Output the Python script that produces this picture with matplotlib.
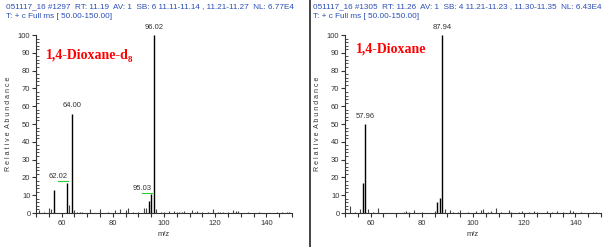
import numpy as np
import matplotlib.pyplot as plt
from matplotlib.ticker import MultipleLocator

plt.rcParams['font.family'] = ['Liberation Sans', 'DejaVu Sans']

# 1,4-dioxane-d8 spectrum
d8_mz = [51, 53, 55, 56, 57, 62.02, 63, 64.00, 65, 66, 67, 68, 71, 75, 78, 81, 83, 85, 86,
         88, 90, 92, 93, 94, 95.03, 96.02, 97, 99, 100, 102, 104, 105, 106, 107, 108, 111,
         112, 113, 115, 117, 119, 121, 122, 123, 125, 127, 128, 129, 133, 137, 144, 146,
         148, 149]
d8_int = [1.5, 0.5, 3, 2, 12.7, 17, 4.5, 55.8, 1.5, 0.5, 0.5, 0.5, 2, 2, 0.5, 1.5, 2.5, 1.5, 3,
          0.5, 0.5, 3, 3, 6.6, 10.5, 100, 2, 0.5, 0.5, 1, 1, 0.5, 0.5, 0.3, 1, 1.5,
          0.5, 1, 0.5, 0.5, 2, 0.5, 0.5, 0.5, 0.5, 1.5, 1, 1, 0.5, 0.5, 0.5, 0.5,
          0.5, 0.5]
d8_labels = ['62.02', '64.00', '95.03', '96.02']

# 1,4-dioxane spectrum
h_mz = [50, 52, 54, 56, 57, 57.96, 59, 61, 63, 73, 74, 75, 77, 80, 85, 86, 87, 87.94, 89,
        91, 92, 94, 95, 98, 101, 103, 104, 106, 107, 109, 111, 114, 115, 118, 119, 122,
        124, 125, 129, 131, 133, 135, 138, 139, 142, 147, 148]
h_int = [1, 3.8, 0.5, 2, 17, 50, 2.5, 0.5, 3, 0.5, 1, 0.5, 1.5, 0.5, 1, 6, 8.5, 100, 2,
         1.5, 0.5, 0.5, 1.5, 0.5, 1, 1.5, 2, 0.5, 1, 3, 0.5, 1.5, 0.5, 0.5, 1, 0.5,
         1, 0.5, 1, 0.5, 1, 0.5, 1.5, 1, 0.5, 0.5, 0.5]
h_labels = ['57.96', '87.94']

headers = [
    ['051117_16 #1297  RT: 11.19  AV: 1  SB: 6 11.11-11.14 , 11.21-11.27  NL: 6.77E4',
     'T: + c Full ms [ 50.00-150.00]'],
    ['051117_16 #1305  RT: 11.26  AV: 1  SB: 4 11.21-11.23 , 11.30-11.35  NL: 6.43E4',
     'T: + c Full ms [ 50.00-150.00]'],
]
titles = [('1,4-Dioxane-d', '8'), ('1,4-Dioxane', '')]

W, H = 613, 247
fig = plt.figure(figsize=(W / 100, H / 100), dpi=100)
blue = '#2b4fb5'
grey = '#333333'

def px(x, y):
    return x / W, 1 - y / H

panels = [
    dict(x0=36, hx=6, mz=d8_mz, it=d8_int, lab=d8_labels, title=titles[0], tpos=(46, 55)),
    dict(x0=345, hx=313, mz=h_mz, it=h_int, lab=h_labels, title=titles[1], tpos=(356, 49)),
]

for i, p in enumerate(panels):
    ax = fig.add_axes([p['x0'] / W, 1 - 213 / H, 256 / W, 178 / H])
    mz = np.array(p['mz'])
    it = np.array(p['it'])
    big = it > 5
    ax.vlines(mz[~big], 0, it[~big], color='#444444', lw=0.8)
    ax.vlines(mz[big], 0, it[big], color='black', lw=1.0)
    ax.set_xlim(50, 150)
    ax.set_ylim(0, 100)
    for s in ['top', 'right']:
        ax.spines[s].set_visible(False)
    for s in ['left', 'bottom']:
        ax.spines[s].set_color(grey)
        ax.spines[s].set_linewidth(0.8)
    ax.xaxis.set_major_locator(MultipleLocator(20))
    ax.xaxis.set_minor_locator(MultipleLocator(5))
    ax.yaxis.set_major_locator(MultipleLocator(10))
    ax.yaxis.set_minor_locator(MultipleLocator(2))
    ax.tick_params(axis='x', which='both', length=3, width=0.8, color=grey,
                   labelsize=5.5, pad=2, labelcolor=grey)
    ax.tick_params(axis='y', which='major', length=3, width=0.8, color=grey,
                   labelsize=5.5, pad=1, labelcolor=grey)
    ax.tick_params(axis='y', which='minor', direction='in', length=2.5, width=0.6, color=grey)
    ax.xaxis.set_major_formatter(lambda v, pos: '' if v in (50, 150) else f'{v:.0f}')
    ax.set_xlabel('m/z', fontsize=5.5, color=grey, labelpad=3)
    ax.set_ylabel('R e l a t i v e  A b u n d a n c e', fontsize=5.0, color=grey, labelpad=4)
    ax.patch.set_alpha(0)

    for lab in p['lab']:
        v = float(lab)
        k = int(np.argmin(np.abs(mz - v)))
        y = it[k]
        if lab in ('62.02', '95.03'):
            ax.text(v + 0.3, y + 1.5, lab, fontsize=5.5, color=grey, ha='right', va='bottom')
            ax.plot([v - 3.5, v + 0.3], [y + 0.8, y + 0.8], color='#33cc33', lw=0.8,
                    clip_on=False)
        else:
            ax.text(v, y + 2.5, lab, fontsize=5.5, color=grey, ha='center', va='bottom',
                    clip_on=False)

    fig.text(*px(p['hx'], 7), headers[i][0], fontsize=5.9, color=blue, va='center')
    fig.text(*px(p['hx'], 17), headers[i][1], fontsize=5.9, color=blue, va='center')
    main, sub = p['title']
    t = fig.text(*px(*p['tpos']), main, fontsize=10, color='red', va='center',
                 family='Liberation Serif', weight='bold')
    if sub:
        ax.annotate(sub, xy=(1, 0.05), xycoords=t, xytext=(-0.6, -2.5),
                    textcoords='offset points', fontsize=6.5, color='red',
                    family='Liberation Serif', weight='bold', va='bottom', ha='left',
                    annotation_clip=False)

fig.add_artist(plt.Line2D([309.5 / W, 309.5 / W], [0, 1], color='#222222', lw=1.2))

fig.savefig('out.png', dpi=100)
